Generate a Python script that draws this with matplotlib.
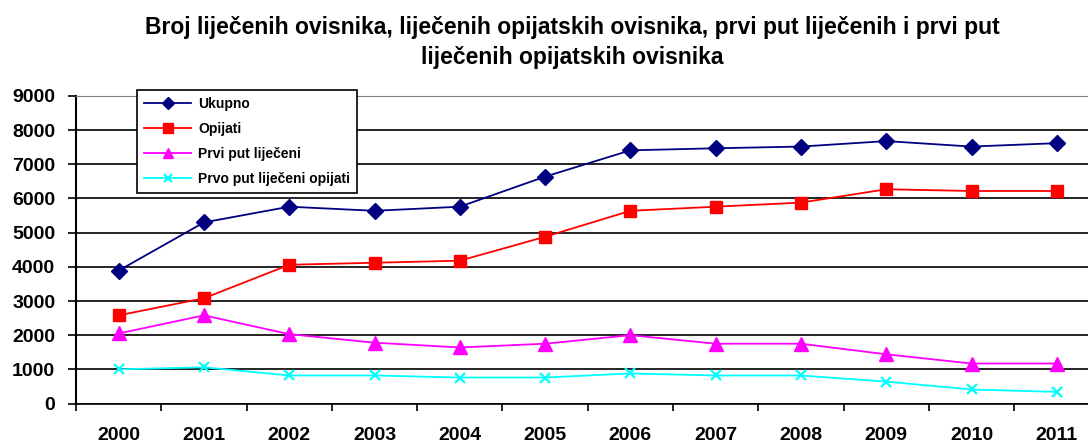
import matplotlib
matplotlib.use('Agg')
import matplotlib.pyplot as plt
import numpy as np

# Data
years = ['2000', '2001', '2002', '2003', '2004', '2005',
         '2006', '2007', '2008', '2009', '2010', '2011']
ukupno = [3890, 5300, 5760, 5640, 5760, 6640, 7410, 7470, 7520, 7680, 7520, 7620]
opijati = [2580, 3080, 4060, 4120, 4180, 4880, 5640, 5760, 5880, 6270, 6220, 6220]
prvi_put = [2050, 2580, 2030, 1780, 1640, 1750, 2000, 1750, 1750, 1440, 1170, 1170]
prvi_put_opijati = [1000, 1060, 820, 820, 760, 760, 880, 820, 820, 640, 410, 340]

series = [
    ('Ukupno', ukupno, '#000080', 'D', 8),
    ('Opijati', opijati, '#FF0000', 's', 9),
    ('Prvi put liječeni', prvi_put, '#FF00FF', '^', 10),
    ('Prvo put liječeni opijati', prvi_put_opijati, '#00FFFF', 'x', 7),
]

plt.rcParams['font.family'] = ['Liberation Sans', 'DejaVu Sans']

W, H = 1088, 445
fig = plt.figure(figsize=(W / 100, H / 100), dpi=100)
# axes extends slightly past the right edge, as in the reference
ax = fig.add_axes([76 / W, (H - 403.5) / H, (1099.5 - 76) / W, (403.5 - 96) / H])

x = np.arange(len(years))
for label, vals, color, marker, ms in series:
    ax.plot(x, vals, color=color, marker=marker, markersize=ms, linewidth=1.3,
            markeredgewidth=1.6 if marker == 'x' else 1.0, label=label)

ax.set_xlim(-0.5, len(years) - 0.5)
ax.set_ylim(0, 9000)
ax.set_yticks(np.arange(0, 9001, 1000))
ax.set_xticks(x)
ax.set_xticklabels(years)
ax.set_xticks(np.arange(-0.5, len(years), 1.0), minor=True)

ax.set_axisbelow(True)
ax.yaxis.grid(True, color='black', linewidth=1.2)
ax.tick_params(axis='x', which='major', length=0, pad=17, labelsize=14)
ax.tick_params(axis='x', which='minor', length=5, width=1.2, direction='out')
ax.tick_params(axis='y', length=6, width=1.2, direction='out', pad=9, labelsize=14)
for lbl in ax.get_xticklabels() + ax.get_yticklabels():
    lbl.set_fontweight('bold')

ax.spines['right'].set_visible(False)
ax.spines['top'].set_color('#808080')
ax.spines['left'].set_linewidth(1.5)
ax.spines['bottom'].set_linewidth(1.2)

leg = ax.legend(loc='upper left', bbox_to_anchor=(137 / W, (H - 90) / H),
                bbox_transform=fig.transFigure, borderaxespad=0, frameon=True,
                fancybox=False, edgecolor='black', framealpha=1,
                prop={'weight': 'bold', 'size': 10}, markerscale=0.75,
                handlelength=3.4, labelspacing=0.8, borderpad=0.5,
                handletextpad=0.5)
leg.get_frame().set_linewidth(1.2)

fig.text(572 / W, (H - 42.5) / H,
         'Broj liječenih ovisnika, liječenih opijatskih ovisnika, prvi put liječenih i prvi put\n'
         'liječenih opijatskih ovisnika',
         ha='center', va='center', fontsize=16.5, fontweight='bold', linespacing=1.35)

fig.savefig('out.png', dpi=100)
